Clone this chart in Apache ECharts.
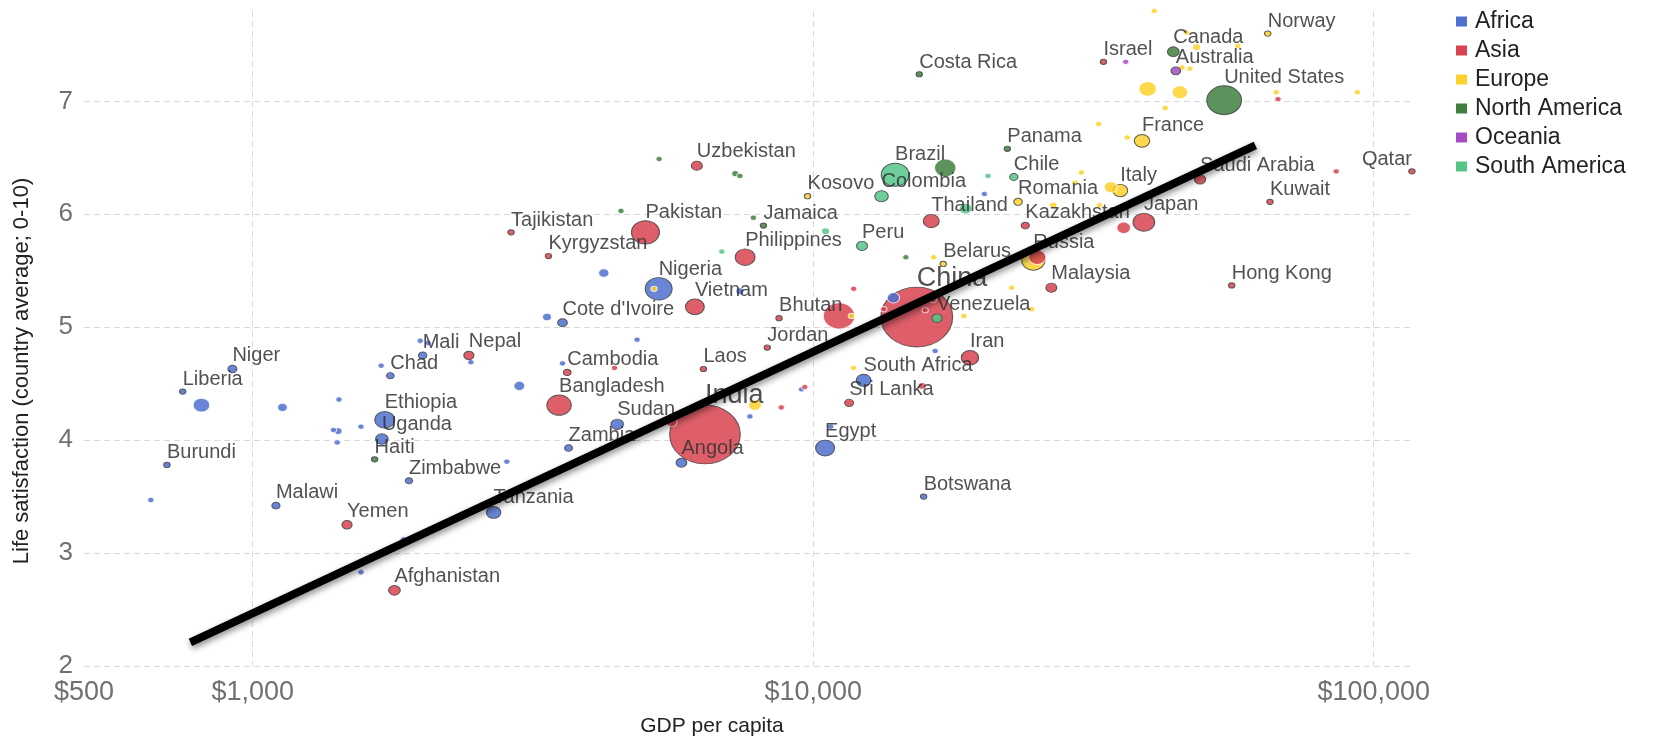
<!DOCTYPE html>
<html>
<head>
<meta charset="utf-8">
<script src="https://cdn.jsdelivr.net/npm/echarts@6/dist/echarts.min.js"></script>
<style>
html,body{margin:0;padding:0;background:#fff;}
#chart{width:1656px;height:742px;}
</style>
</head>
<body>
<div id="chart"></div>
<script>
// ---------------- DATA ----------------
const continents = ['Africa', 'Asia', 'Europe', 'North America', 'Oceania', 'South America'];
const continentColors = ['#4f70cf', '#d8434f', '#fdd12b', '#3f7f3f', '#a54cc5', '#55c487'];

// GDP per capita ($), life satisfaction (0-10), population (millions, from bubble area)
const africaNames = ['Nigeria','Ethiopia','Egypt','DR Congo','Tanzania','South Africa','Uganda','Sudan','Algeria','Kenya','Madagascar','Angola','Ghana','Cameroon','Morocco',"Cote d'Ivoire",'Niger','Mali','Malawi','Zambia','Burkina Faso','Chad','Zimbabwe','Burundi','Guinea','Benin','Senegal','Mozambique','South Sudan','Tunisia','Rwanda','Togo','Liberia','Sierra Leone','Central African Republic','Gambia','Comoros','Lesotho','Mauritania','Congo','Namibia','Eswatini','Gabon','Mauritius','Botswana'];
const africaGdp   = [5300,1720,10500,810,2690,12300,1700,4470,13900,2990,1130,5820,4230,3350,7400,3570,920,2010,1100,3660,1420,1760,1900,703,1425,1393,2450,1695,1560,10750,1857,1560,750,1415,658,1990,2055,2840,4850,3570,7710,9530,16500,20200,15740];
const africaLife  = [5.34,4.18,3.93,4.31,3.36,4.53,4.01,4.14,5.26,4.48,4.29,3.80,5.48,5.09,5.32,5.04,4.63,4.75,3.42,3.93,4.08,4.57,3.64,3.78,4.36,4.09,4.69,4.66,2.83,4.12,3.12,4.12,4.43,3.98,3.47,4.88,4.86,3.81,4.89,4.68,4.21,4.45,4.79,6.18,3.50];
const africaPop   = [196,109,98,75,56,58,43,42,42,33,26,31,29,22,18,25,22,19,18,17,17,15.5,14.4,11,10,10,10,10,10,10,8,7,4.8,5,5,8,6,6,6,6,6,5,5,5,2.3];

const asiaNames = ['China','India','Indonesia','Pakistan','Bangladesh','Japan','Philippines','Vietnam','Turkey','Iran','Thailand','South Korea','Myanmar','Iraq','Afghanistan','Saudi Arabia','Uzbekistan','Malaysia','Yemen','Nepal','Sri Lanka','Kazakhstan','Cambodia','Azerbaijan','Jordan','Turkmenistan','Palestine','Lebanon','Tajikistan','Israel','Hong Kong','Laos','Kyrgyzstan','United Arab Emirates','Georgia','Armenia','Mongolia','Kuwait','Bahrain','Singapore','Qatar','Bhutan'];
const asiaGdp   = [15300,6410,11120,5020,3520,38900,7560,6150,25100,19040,16240,35800,5590,15640,1790,49000,6200,26600,1473,2430,11590,23900,3640,15840,8280,16370,13360,11810,2890,32950,55800,6370,3370,85700,8770,9660,4420,65300,43200,67500,117000,8690];
const asiaLife  = [5.09,4.05,5.10,5.84,4.31,5.93,5.62,5.18,5.62,4.73,5.94,5.88,4.16,4.48,2.67,6.31,6.43,5.35,3.25,4.75,4.33,5.90,4.60,5.15,4.82,5.24,5.16,5.34,5.84,7.35,5.37,4.63,5.63,6.38,4.29,4.47,4.64,6.11,6.24,7.02,6.38,5.08];
const asiaPop   = [1400,1353,268,212,161,127,107,96,82,82,69,51,33,17,37,34,33,32,28.5,28,21.7,18,16,10,10,6,6,5,9,8.9,7.4,7,6.3,9.6,4,3,3.2,4.1,1.6,5.6,2.8,0.75];

const europeNames = ['Russia','Germany','United Kingdom','France','Italy','Spain','Ukraine','Poland','Romania','Netherlands','Belgium','Czechia','Portugal','Greece','Sweden','Belarus','Austria','Switzerland','Bulgaria','Serbia','Denmark','Finland','Slovakia','Norway','Ireland','Moldova','Albania','Bosnia and Herzegovina','Montenegro','Slovenia','Kosovo','Malta','Luxembourg'];
const europeGdp   = [24700,39500,45100,38600,35300,33950,7870,26800,23200,48300,42460,36340,32400,22600,45500,17060,47000,57200,24520,18570,46300,40600,29300,64700,67000,5200,11800,11700,16400,30100,9770,32300,93500];
const europeLife  = [5.59,7.11,7.08,6.65,6.21,6.24,4.31,6.08,6.11,7.48,6.94,6.68,6.08,5.35,7.30,5.56,7.29,7.49,5.16,5.10,7.61,7.80,6.28,7.60,7.08,5.34,4.64,5.10,5.62,6.37,6.16,6.80,7.08];
const europePop   = [145,83,66,65,60,47,44,15,19.5,17,11.5,10.6,10,10,10,9.5,8.8,8.5,7,7,5.8,5.5,5.4,5.3,4.9,3.5,2.9,3.3,0.6,2.1,1.8,0.5,0.6];

const northAmericaNames = ['United States','Mexico','Canada','Guatemala','Haiti','Dominican Republic','Honduras','Nicaragua','El Salvador','Costa Rica','Panama','Jamaica','Belize'];
const northAmericaGdp   = [54100,17200,43900,7260,1650,14630,4540,5310,7400,15460,22200,8150,7820];
const northAmericaLife  = [7.01,6.41,7.44,6.36,3.83,5.62,6.03,6.49,6.34,7.24,6.58,5.90,5.97];
const northAmericaPop   = [327,126,37,14,11,10.6,9.5,6.5,6.4,5,4.2,2.9,0.4];

const oceaniaNames = ['Australia','New Zealand'];
const oceaniaGdp   = [44350,36100];
const oceaniaLife  = [7.27,7.35];
const oceaniaPop   = [25,4.9];

const southAmericaNames = ['Brazil','Colombia','Argentina','Peru','Venezuela','Chile','Ecuador','Bolivia','Uruguay'];
const southAmericaGdp   = [14000,13240,18700,12220,16630,22800,10520,6870,20500];
const southAmericaLife  = [6.35,6.16,6.05,5.72,5.08,6.33,5.85,5.67,6.34];
const southAmericaPop   = [209,49,44,32,29,18.7,17,11,3.5];

// countries whose names are written on the chart
const labeledCountries = ['Norway','Canada','Israel','Australia','United States','Costa Rica','France','Panama','Uzbekistan','Brazil','Chile','Kosovo','Colombia','Romania','Italy','Saudi Arabia','Qatar','Kuwait','Thailand','Kazakhstan','Japan','Tajikistan','Pakistan','Jamaica','Kyrgyzstan','Peru','Philippines','Belarus','Russia','Nigeria','Vietnam','China','Malaysia','Hong Kong',"Cote d'Ivoire",'Bhutan','Venezuela','Mali','Nepal','Niger','Chad','Liberia','Cambodia','Jordan','Laos','Iran','South Africa','Ethiopia','Bangladesh','Uganda','Sri Lanka','India','Sudan','Haiti','Burundi','Zambia','Angola','Egypt','Zimbabwe','Botswana','Malawi','Tanzania','Yemen','Afghanistan'];
const bigLabelCountries = ['China','India'];
const leftSideLabelCountries = ['Qatar'];

// regression (trend) line end points: [GDP per capita, life satisfaction]
const trendGdp  = [774, 61500];
const trendLife = [2.21, 6.61];

// axis ticks
const xTickValues = [500, 1000, 10000, 100000];
const yTickValues = [2, 3, 4, 5, 6, 7];

// ---------------- CHART ----------------
const FONT = "'Liberation Sans', Arial, Helvetica, sans-serif";
const ELLIPSE = 'path://M0,50A50,50,0,1,1,100,50A50,50,0,1,1,0,50Z';

const groups = {
  'Africa': [africaNames, africaGdp, africaLife, africaPop],
  'Asia': [asiaNames, asiaGdp, asiaLife, asiaPop],
  'Europe': [europeNames, europeGdp, europeLife, europePop],
  'North America': [northAmericaNames, northAmericaGdp, northAmericaLife, northAmericaPop],
  'Oceania': [oceaniaNames, oceaniaGdp, oceaniaLife, oceaniaPop],
  'South America': [southAmericaNames, southAmericaGdp, southAmericaLife, southAmericaPop]
};

function bubbleSize(p) {
  const h = Math.max(5.3, 1.6 * Math.sqrt(p));
  return [h * 1.2, h];
}

function makeItem(n, g, l, p) {
  const size = bubbleSize(p);
  const item = { name: n, value: [g, l, p], symbolSize: size };
  if (labeledCountries.indexOf(n) >= 0) {
    const fs = bigLabelCountries.indexOf(n) >= 0 ? 27 : 20;
    const dy = 10 + 0.85 * size[1] / 2 + (fs - 20) / 2;
    item.itemStyle = { borderColor: '#444', borderWidth: 1 };
    item.label = {
      show: true,
      formatter: '{b}',
      position: 'inside',
      align: leftSideLabelCountries.indexOf(n) >= 0 ? 'right' : 'left',
      verticalAlign: 'middle',
      offset: [0, -dy],
      fontSize: fs,
      color: '#333',
      fontFamily: FONT
    };
  } else {
    item.itemStyle = { borderColor: 'rgba(255,255,255,0.9)', borderWidth: 1 };
  }
  return item;
}

const drawOrder = ['Africa', 'Europe', 'Asia', 'North America', 'South America', 'Oceania'];
const series = [];
[true, false].forEach(function (bigTier) {
  drawOrder.forEach(function (cont) {
    const g = groups[cont];
    const rows = [];
    for (let i = 0; i < g[0].length; i++) {
      const isBig = g[3][i] >= 60;
      if (isBig === bigTier) rows.push([g[0][i], g[1][i], g[2][i], g[3][i]]);
    }
    rows.sort(function (a, b) { return b[3] - a[3]; });
    series.push({
      type: 'scatter',
      name: cont,
      symbol: ELLIPSE,
      clip: false,
      z: 2,
      itemStyle: { color: continentColors[continents.indexOf(cont)], opacity: 0.85 },
      label: { show: false, formatter: '{b}' },
      emphasis: { disabled: true },
      data: rows.map(function (r) { return makeItem(r[0], r[1], r[2], r[3]); })
    });
  });
});

series.push({
  type: 'line',
  name: 'trend',
  silent: true,
  z: 10,
  symbol: 'none',
  clip: false,
  lineStyle: {
    color: '#000', width: 8, cap: 'butt',
    shadowColor: 'rgba(0,0,0,0.45)', shadowBlur: 6, shadowOffsetX: 1, shadowOffsetY: 3
  },
  data: trendGdp.map(function (x, i) { return [x, trendLife[i]]; })
});

function money(v) {
  const r = Math.round(v);
  return '$' + String(r).replace(/\B(?=(\d{3})+(?!\d))/g, ',');
}

const chart = echarts.init(document.getElementById('chart'), null, { renderer: 'canvas' });
chart.setOption({
  animation: false,
  backgroundColor: '#ffffff',
  textStyle: { fontFamily: FONT },
  grid: { left: 84, right: 242, top: 11, bottom: 75, containLabel: false },
  legend: {
    data: continents,
    orient: 'vertical',
    left: 1456,
    top: 10,
    padding: 0,
    icon: 'rect',
    itemWidth: 11,
    itemHeight: 10,
    itemGap: 6,
    itemStyle: { opacity: 1, borderWidth: 0 },
    textStyle: { fontSize: 23, color: '#222', lineHeight: 23, fontFamily: FONT, padding: [0, 0, 0, 3] },
    selectedMode: false
  },
  xAxis: {
    type: 'log',
    logBase: 10,
    min: 500,
    max: 118000,
    name: 'GDP per capita',
    nameLocation: 'middle',
    nameGap: 50,
    nameTextStyle: { fontSize: 21, color: '#222', fontFamily: FONT, padding: [0, 74, 0, 0] },
    axisLine: { show: false },
    axisTick: { show: false },
    axisLabel: {
      fontSize: 27, color: '#707070', margin: 13, fontFamily: FONT,
      showMinLabel: true, showMaxLabel: false,
      formatter: function (v) {
        const r = Math.round(v);
        return xTickValues.indexOf(r) >= 0 ? money(r) : '';
      }
    },
    splitLine: {
      show: true, showMinLine: false, showMaxLine: false,
      lineStyle: { color: '#d9d9d9', width: 1, type: [6, 4] }
    }
  },
  yAxis: {
    type: 'value',
    min: 2,
    max: 7.8,
    interval: 1,
    axisLine: { show: false },
    axisTick: { show: false },
    axisLabel: {
      fontSize: 26, color: '#707070', margin: 11, fontFamily: FONT,
      showMaxLabel: false,
      formatter: function (v) { return yTickValues.indexOf(v) >= 0 ? String(v) : ''; }
    },
    splitLine: {
      show: true, showMaxLine: false,
      lineStyle: { color: '#d9d9d9', width: 1, type: [6, 4] }
    }
  },
  graphic: [{
    type: 'text',
    x: 22,
    y: 371,
    rotation: Math.PI / 2,
    silent: true,
    style: {
      text: 'Life satisfaction (country average; 0-10)',
      font: "22px 'Liberation Sans', Arial, sans-serif",
      fill: '#222',
      align: 'center',
      verticalAlign: 'middle',
      textAlign: 'center',
      textVerticalAlign: 'middle'
    }
  }],
  series: series
});
</script>
</body>
</html>
